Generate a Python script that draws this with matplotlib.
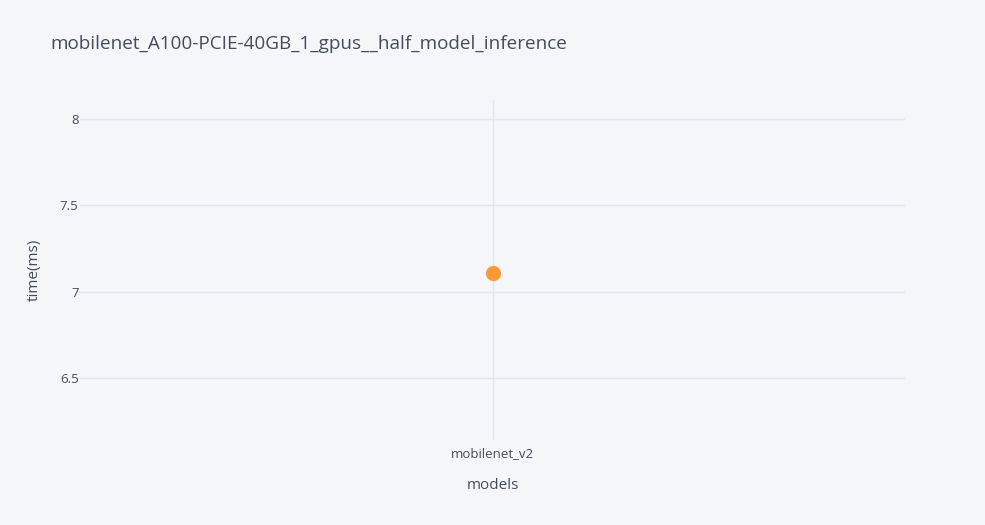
import matplotlib.pyplot as plt

models = ["mobilenet_v2"]
times = [7.11]
title = "mobilenet_A100-PCIE-40GB_1_gpus__half_model_inference"

plt.rcParams['font.family'] = ['Open Sans', 'DejaVu Sans']
bg = "#f5f6fa"
grid = "#e3e6ec"
txt = "#444c5c"

fig = plt.figure(figsize=(9.85, 5.25), dpi=100, facecolor=bg)
ax = fig.add_axes([80 / 985, 85 / 525, 825 / 985, 340 / 525], facecolor=bg)

xs = list(range(len(models)))
ax.scatter(xs, times, s=120, color="#ff9933", zorder=3, linewidths=0)

ax.set_xlim(-0.5, len(models) - 0.5)
ax.set_ylim(6.14, 8.11)
ax.set_xticks(xs)
ax.set_xticklabels(models)
ax.set_yticks([6.5, 7, 7.5, 8])
ax.set_yticklabels(["6.5", "7", "7.5", "8"])
ax.grid(True, color=grid, linewidth=1)
ax.set_axisbelow(True)
for s in ax.spines.values():
    s.set_visible(False)
ax.tick_params(length=0, labelsize=9.5, colors=txt, pad=1)
ax.tick_params(axis='x', pad=5)

ax.set_xlabel("models", fontsize=11, color=txt, labelpad=13)
ax.set_ylabel("time(ms)", fontsize=11, color=txt, labelpad=13)
fig.text(50 / 985, 1 - 44 / 525, title, fontsize=13.6, color=txt, va="center", ha="left")

fig.savefig("out.png", dpi=100, facecolor=bg)
